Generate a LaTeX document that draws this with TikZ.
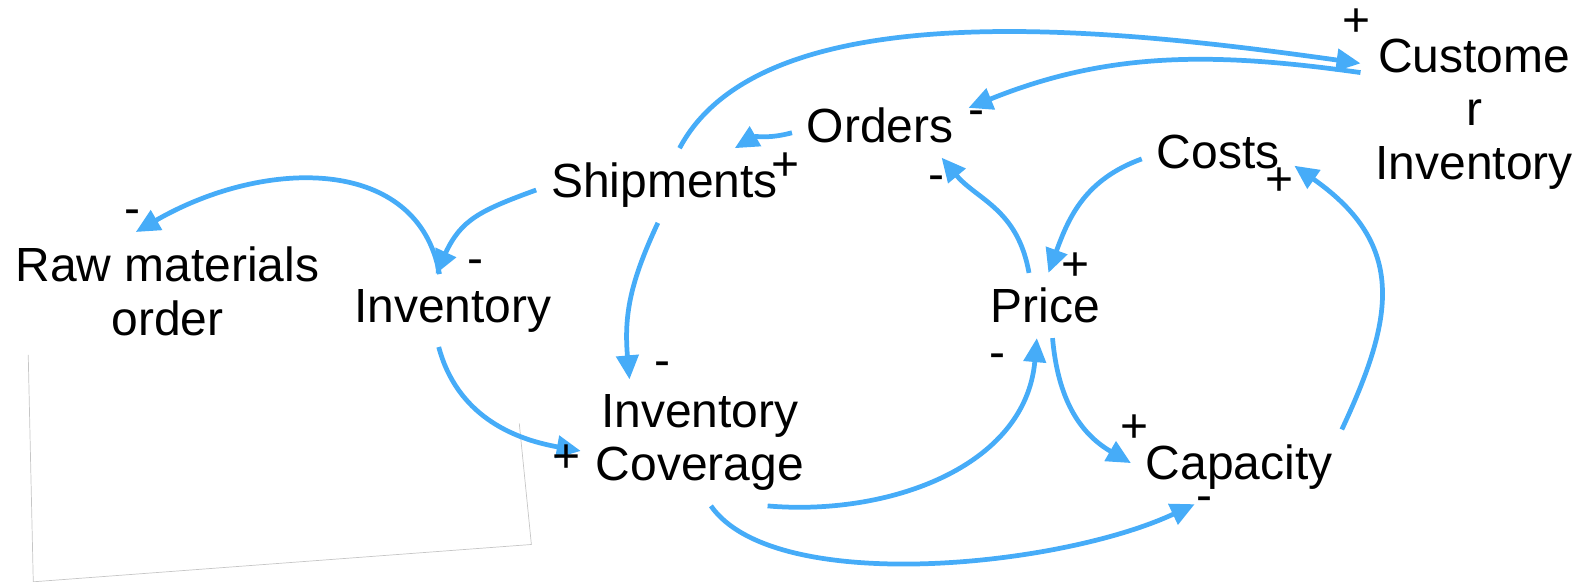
\documentclass[tikz,border=0pt]{standalone}
\usepackage{fontspec}
\setmainfont{Liberation Sans}
\usetikzlibrary{arrows.meta}
\definecolor{linkblue}{RGB}{70,172,248}
\tikzset{
  var/.style={align=center, inner sep=0.15cm, outer sep=0.15cm,
    font=\fontsize{27.3}{30.5}\selectfont},
  sign/.style={inner sep=0pt, font=\fontsize{27.3}{30.5}\selectfont},
  link/.style={draw=linkblue, line width=2.7pt,
    -{Triangle[length=0.48cm,width=0.44cm]}}
}
\begin{document}
\begin{tikzpicture}[x=0.02017cm, y=0.02017cm]
    \useasboundingbox (0,0) rectangle (1568,-577);
    % faint frame in the lower left
    \draw[gray!45, line width=0.4pt] (28,-352) -- (33,-577) -- (527,-540) -- (515,-420);
    % variables
    \node[var] (raw) at (166,-289) {Raw materials\\order};
    \node[var] (inv) at (449,-308) {Inventory};
    \node[var] (ship) at (659,-184) {Shipments};
    \node[var] (orders) at (873,-124) {Orders};
    \node[var] (cov) at (694,-439) {Inventory\\Coverage};
    \node[var] (price) at (1037,-303) {Price};
    \node[var] (costs) at (1208,-151) {Costs};
    \node[var] (cap) at (1229,-463) {Capacity};
    \node[var] (cust) at (1462,-113) {Custome\\r\\Inventory};
    % causal links
    \draw[link] (inv.110) to[out=100, in=30, out distance=2.4cm, in distance=3cm] (raw.118);
    \draw[link] (ship.182) to[out=200, in=65, out distance=1.2cm, in distance=1.2cm] (inv.115);
    \draw[link] (inv.-111) to[out=-75, in=170, out distance=1.4cm, in distance=1.4cm] (cov.184);
    \draw[link] (ship.-100) to[out=-115, in=95, out distance=1.3cm, in distance=1.3cm] (cov.138);
    \draw[link] (orders.185) to[out=195, in=30, out distance=0.5cm, in distance=0.5cm] (ship.28);
    \draw[link] (ship.68) to[out=62, in=172, out distance=3.6cm, in distance=5cm] (cust.156);
    \draw[link] (cust.160) to[out=172, in=22, out distance=3cm, in distance=3cm] (orders.11);
    \draw[link] (price.117) to[out=100, in=-50, out distance=1.3cm, in distance=1.1cm] (orders.-28);
    \draw[link] (costs.185) to[out=200, in=70, out distance=1.2cm, in distance=1.2cm] (price.85);
    \draw[link] (cap.20) to[out=65, in=-35, out distance=2.4cm, in distance=2.8cm] (costs.-10);
    \draw[link] (price.-78) to[out=-85, in=150, out distance=1.2cm, in distance=1.2cm] (cap.178);
    \draw[link] (cov.-43) to[out=-5, in=-95, out distance=2.4cm, in distance=2.6cm] (price.-105);
    \draw[link] (cov.-80) to[out=-55, in=205, out distance=2.2cm, in distance=3cm] (cap.-140);
    % polarity signs
    \foreach \sx/\sy/\sg [count=\i] in {131/215/-, 472/265/-, 562/455/+, 657/366/-,
        779/165/+, 1345/22/+, 968/117/-, 929/182/-, 1067/264/+, 1269/180/+,
        1125/425/+, 989/358/-, 1195/500/-} {
        \node[sign] (sign\i) at (\sx,-\sy) {\sg};
    }
\end{tikzpicture}
\end{document}
